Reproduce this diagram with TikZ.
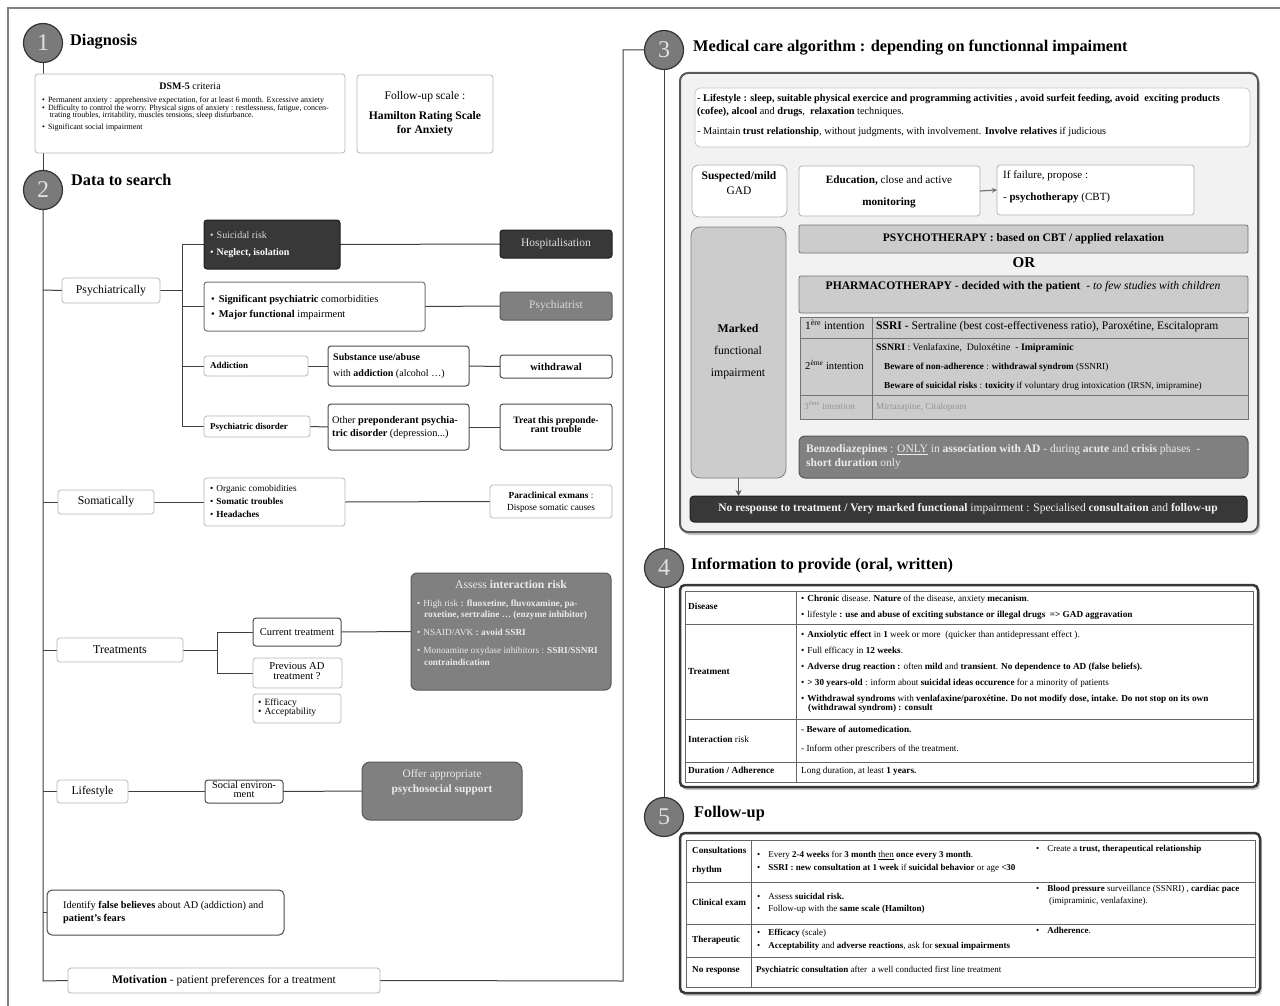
\documentclass[tikz,border=0pt]{standalone}
\usepackage{fontspec}
\setmainfont{Liberation Serif}
\usetikzlibrary{shadows,arrows.meta,calc}
\pgfdeclarelayer{bg}
\pgfsetlayers{bg,main}
\newcommand\fsz[1]{\fontsize{#1}{#1}\selectfont}
\newcounter{tln}
\newcommand\tx[4][]{\stepcounter{tln}\node[anchor=mid west,inner sep=0pt,font=\fsz{#3},#1] (t\arabic{tln}) at (#2) {#4};}
\newcommand\mkbox[7]{\node[inner sep=0pt,outer sep=0pt,minimum width={(#4)-(#2)},minimum height={(#5)-(#3)},#6] (#1) at ({((#2)+(#4))/2},{((#3)+(#5))/2}) {#7};}
\tikzset{
  lbox/.style={draw=black!28,line width=0.8pt,rounded corners=3pt,fill=white},
  dbox/.style={draw=black!70,line width=1pt,rounded corners=3pt,fill=white},
  darkbox/.style={draw=black!88,line width=1pt,rounded corners=3pt,fill=black!78,text=white},
  midbox/.style={draw=black!65,line width=1pt,rounded corners=3pt,fill=black!50,text=white!92!black},
  num/.style={circle,draw=black!80,line width=1.2pt,fill=black!52,minimum size=39pt,inner sep=0pt,text=white!88!black,font=\fsz{24}},
  head/.style={anchor=mid west,inner sep=0pt,font=\fsz{16.3}\bfseries},
  conn/.style={draw=black!75,line width=1pt},
  bigpanel/.style={draw=black!65,line width=2pt,rounded corners=8pt,fill=black!5,drop shadow={fill=black!45,shadow xshift=2pt,shadow yshift=-3pt}},
  tabpanel/.style={draw=black!78,line width=2.5pt,rounded corners=5pt,fill=white,drop shadow={fill=black!40,shadow xshift=2pt,shadow yshift=-3pt}},
  gfill/.style={draw=black!55,line width=0.8pt,rounded corners=2pt,fill=black!20},
  wtxt/.style={text=white!92!black},
}
\begin{document}
\begin{tikzpicture}[x=1pt,y=-1pt]
\useasboundingbox (0,0) rectangle (1280,1006);
\begin{pgfonlayer}{bg}
\fill[white] (0,0) rectangle (1280,1006);
\end{pgfonlayer}
\coordinate (fa) at (8,1006);
\coordinate (fb) at (8,8);
\coordinate (fc) at (1280,8);
\draw[black!50,line width=1.5pt] (fa) -- (fb) -- (fc);

% ===== Section 1
\node[num] (c1) at (43,43) {1};
\node[head] (h1) at (70,43) {Diagnosis};
\mkbox{dsm}{35}{74}{345}{153}{lbox}{}
\tx[anchor=mid]{190,87}{10}{\textbf{DSM-5} criteria}
\tx{42,100}{8}{\textbullet\hspace{3pt}Permanent anxiety : apprehensive expectation, for at least 6 month. Excessive anxiety}
\tx{42,108}{8}{\textbullet\hspace{3pt}Difficulty to control the worry. Physical signs of anxiety : restlessness, fatigue, concen-}
\tx{49.5,115}{8}{trating troubles, irritability, muscles tensions, sleep disturbance.}
\tx{42,127.5}{8}{\textbullet\hspace{3pt}Significant social impairment}
\mkbox{fol}{357}{75}{493}{153}{lbox}{}
\tx[anchor=mid]{425,97}{11.6}{Follow-up scale :}
\tx[anchor=mid]{425,117}{11.6}{\textbf{Hamilton Rating Scale}}
\tx[anchor=mid]{425,131}{11.6}{\textbf{for Anxiety}}

% ===== Section 2
\node[num] (c2) at (43,190) {2};
\node[head] (h2) at (71,183) {Data to search};

\mkbox{psy}{62}{278}{160}{303}{lbox,font=\fsz{11.8}}{Psychiatrically}
\mkbox{sui}{204}{220}{340}{269}{darkbox}{}
\tx[text=white!85!black]{210,236}{10}{\textbullet\hspace{3pt}Suicidal risk}
\tx[text=white]{210,253}{10}{\textbullet\hspace{3pt}\textbf{Neglect, isolation}}
\mkbox{hosp}{500}{230}{612}{258}{darkbox,font=\fsz{11.5},text=white!88!black}{Hospitalisation}
\mkbox{sig}{204}{282}{425}{331}{dbox,draw=black!55}{}
\tx{211,300}{10.4}{\textbullet\hspace{4pt}\textbf{Significant psychiatric} comorbidities}
\tx{211,315}{10.4}{\textbullet\hspace{4pt}\textbf{Major functional} impairment}
\mkbox{psyt}{500}{292}{612}{320}{midbox,font=\fsz{11.5},text=white!85!black}{Psychiatrist}
\mkbox{add}{204}{356}{308}{376}{lbox}{}
\tx{210,366}{9}{\textbf{Addiction}}
\mkbox{subs}{328}{346}{469}{386}{dbox}{}
\tx{333,358}{10}{\textbf{Substance use/abuse}}
\tx{333,374}{10}{with \textbf{addiction} (alcohol \dots)}
\mkbox{wd}{500}{355}{612}{378}{dbox,font=\fsz{10.5}\bfseries}{withdrawal}
\mkbox{pdis}{204}{416}{310}{437}{lbox}{}
\tx{210,427}{9}{\textbf{Psychiatric disorder}}
\mkbox{oth}{328}{404}{469}{450}{dbox}{}
\tx{332,421}{10.3}{Other \textbf{preponderant psychia-}}
\tx{332,434}{10.3}{\textbf{tric disorder} (depression...)}
\mkbox{trb}{500}{404}{612}{450}{dbox}{}
\tx[anchor=mid]{556,421}{9.8}{\textbf{Treat this preponde-}}
\tx[anchor=mid]{556,430.5}{9.8}{\textbf{rant trouble}}

\mkbox{soma}{58}{490}{154}{514}{lbox,font=\fsz{11.8}}{Somatically}
\mkbox{org}{204}{478}{345}{526}{lbox}{}
\tx{210,489}{9.3}{\textbullet\hspace{3pt}Organic comobidities}
\tx{210,502}{9.3}{\textbullet\hspace{3pt}\textbf{Somatic troubles}}
\tx{210,515}{9.3}{\textbullet\hspace{3pt}\textbf{Headaches}}
\mkbox{para}{490}{485}{612}{518}{lbox}{}
\tx[anchor=mid]{551,496}{9.3}{\textbf{Paraclinical exmans} :}
\tx[anchor=mid]{551,508}{9.3}{Dispose somatic causes}

\mkbox{trt}{57}{638}{183}{662}{lbox,font=\fsz{12}}{Treatments}
\mkbox{cur}{253}{618}{341}{646}{dbox,font=\fsz{10.5}}{Current treatment}
\mkbox{prev}{253}{658}{342}{688}{lbox}{}
\tx[anchor=mid]{297,667.5}{10.6}{Previous AD}
\tx[anchor=mid]{297,677}{10.6}{treatment ?}
\mkbox{eff}{253}{694}{341}{723}{lbox}{}
\tx{258,703}{9.6}{\textbullet\hspace{3pt}Efficacy}
\tx{258,712}{9.6}{\textbullet\hspace{3pt}Acceptability}
\mkbox{ass}{411}{573}{611}{690}{midbox,rounded corners=6pt}{}
\tx[anchor=mid,wtxt]{511,586}{11.7}{Assess \textbf{interaction risk}}
\tx[wtxt]{417,604}{9.3}{\textbullet\hspace{3pt}High risk \textbf{: fluoxetine, fluvoxamine, pa-}}
\tx[wtxt]{424,615}{9.3}{\textbf{roxetine, sertraline \dots\ (enzyme inhibitor)}}
\tx[wtxt]{417,633}{9.3}{\textbullet\hspace{3pt}NSAID/AVK \textbf{: avoid SSRI}}
\tx[wtxt]{417,651}{9.3}{\textbullet\hspace{3pt}Monoamine oxydase inhibitors : \textbf{SSRI/SSNRI}}
\tx[wtxt]{424,663}{9.3}{\textbf{contraindication}}

\mkbox{life}{57}{780}{128}{803}{lbox,font=\fsz{11.8}}{Lifestyle}
\mkbox{soc}{205}{780}{283}{803}{dbox}{}
\tx[anchor=mid]{244,786.5}{10.4}{Social environ-}
\tx[anchor=mid]{244,795}{10.4}{ment}
\mkbox{offer}{362}{762}{522}{820}{midbox,rounded corners=8pt}{}
\tx[anchor=mid,wtxt]{442,775}{11.3}{Offer appropriate}
\tx[anchor=mid,wtxt]{442,790}{11.3}{\textbf{psychosocial support}}

\mkbox{ident}{47}{890}{284}{935}{dbox,rounded corners=5pt}{}
\tx{63,906}{10.3}{Identify \textbf{false believes} about AD (addiction) and}
\tx{63,919}{10.3}{\textbf{patient's fears}}
\mkbox{motiv}{68}{968}{380}{993}{lbox,font=\fsz{11.6}}{\textbf{Motivation} - patient preferences for a treatment}

% ===== Section 3
\node[num] (c3) at (664,50) {3};
\node[head] (h3) at (693,49) {Medical care algorithm : depending on functionnal impaiment};
\mkbox{p3}{680}{73}{1258}{532}{bigpanel}{}
\mkbox{lsb}{695}{88}{1250}{147}{lbox,draw=black!22,rounded corners=5pt}{}
\tx{697,99}{10.3}{- \textbf{Lifestyle : sleep, suitable physical exercice and programming activities , avoid surfeit feeding, avoid\ \ exciting products}}
\tx{697,112}{10.3}{\textbf{(cofee), alcool} and \textbf{drugs}, \ \textbf{relaxation} techniques.}
\tx{697,132}{10.3}{- Maintain \textbf{trust relationship}, without judgments, with involvement. \textbf{Involve relatives} if judicious}
\mkbox{susp}{692}{165}{787}{217}{lbox,draw=black!30,rounded corners=7pt}{}
\tx[anchor=mid]{739,177}{11.5}{\textbf{Suspected/mild}}
\tx[anchor=mid]{739,192}{11.5}{GAD}
\mkbox{edu}{799}{166}{980}{216}{lbox,draw=black!30}{}
\tx[anchor=mid]{889,181}{11.2}{\textbf{Education,} close and active}
\tx[anchor=mid]{889,203}{11.2}{\textbf{monitoring}}
\mkbox{fail}{997}{165}{1194}{215}{lbox,draw=black!30}{}
\tx{1003,176}{11}{If failure, propose :}
\tx{1003,198}{11}{- \textbf{psychotherapy} (CBT)}
\mkbox{mark}{691}{227}{786}{478}{gfill,draw=black!50,rounded corners=9pt}{}
\tx[anchor=mid]{738,330}{11.8}{\textbf{Marked}}
\tx[anchor=mid]{738,352}{11.8}{functional}
\tx[anchor=mid]{738,374}{11.8}{impairment}
\mkbox{pst}{799}{225}{1248}{253}{gfill,font=\fsz{11.5}\bfseries}{PSYCHOTHERAPY : based on CBT / applied relaxation}
\tx[anchor=mid]{1024,265}{15}{\textbf{OR}}
\mkbox{pha}{799}{276}{1248}{313}{gfill}{}
\tx[anchor=mid]{1023,287}{11.6}{\textbf{PHARMACOTHERAPY - decided with the patient}\ \ - \textit{to few studies with children}}
\mkbox{tab}{800}{317}{1248}{419}{draw=black!55,line width=0.8pt,fill=black!20}{}
\coordinate (ta1) at (800,338); \coordinate (ta2) at (1248,338);
\coordinate (tb1) at (800,395); \coordinate (tb2) at (1248,395);
\coordinate (tv1) at (872,317); \coordinate (tv2) at (872,419);
\draw[black!55,line width=0.8pt] (ta1) -- (ta2) (tb1) -- (tb2) (tv1) -- (tv2);
\tx{805,327.5}{11.4}{1\textsuperscript{ère} intention}
\tx{876,327.5}{11.6}{\textbf{SSRI -} Sertraline (best cost-effectiveness ratio), Paroxétine, Escitalopram}
\tx{805,367}{10.6}{2\textsuperscript{ème} intention}
\tx{876,348}{9.8}{\textbf{SSNRI} : Venlafaxine,\ \ Duloxétine\ \ - \textbf{Imipraminic}}
\tx{884,367.5}{9.2}{\textbf{Beware of non-adherence} : \textbf{withdrawal syndrom} (SSNRI)}
\tx{884,386}{9.2}{\textbf{Beware of suicidal risks} : \textbf{toxicity} if voluntary drug intoxication (IRSN, imipramine)}
\tx[text=black!42]{804,407}{9.2}{3\textsuperscript{ème} intention}
\tx[text=black!42]{876,407}{9.2}{Mirtazapine, Citalopram}
\mkbox{benz}{799}{436}{1248}{478}{midbox,rounded corners=6pt}{}
\tx[wtxt]{806,450}{11.5}{\textbf{Benzodiazepines} : \underline{ONLY} in \textbf{association with AD} - during \textbf{acute} and \textbf{crisis} phases\ \ -}
\tx[wtxt]{806,464}{11.5}{\textbf{short duration} only}
\mkbox{nor}{690}{496}{1247}{522}{darkbox,rounded corners=4pt}{}
\tx[anchor=mid,text=white!95!black]{968,509}{11.5}{\textbf{No response to treatment / Very marked functional} impairment : Specialised \textbf{consultaiton} and \textbf{follow-up}}

% ===== Section 4
\node[num] (c4) at (664,568) {4};
\node[head] (h4) at (691,567) {Information to provide (oral, written)};
\mkbox{p4}{680}{585}{1258}{787}{tabpanel}{}
\mkbox{t4}{685}{591}{1253}{782}{draw=black!60,line width=0.6pt}{}
\coordinate (f1) at (685,624); \coordinate (f2) at (1253,624);
\coordinate (f3) at (685,719); \coordinate (f4) at (1253,719);
\coordinate (f5) at (685,762); \coordinate (f6) at (1253,762);
\coordinate (f7) at (796,591); \coordinate (f8) at (796,782);
\draw[black!60,line width=0.6pt] (f1) -- (f2) (f3) -- (f4) (f5) -- (f6) (f7) -- (f8);
\tx{688,607}{9.3}{\textbf{Disease}}
\tx{688,672}{9.3}{\textbf{Treatment}}
\tx{688,740}{9.3}{\textbf{Interaction} risk}
\tx{688,771}{9.3}{\textbf{Duration / Adherence}}
\tx{801,599}{9.2}{\textbullet\hspace{3pt}\textbf{Chronic} disease. \textbf{Nature} of the disease, anxiety \textbf{mecanism}.}
\tx{801,615}{9.2}{\textbullet\hspace{3pt}lifestyle \textbf{: use and abuse of exciting substance or illegal drugs\ \ => GAD aggravation}}
\tx{801,635}{9.2}{\textbullet\hspace{3pt}\textbf{Anxiolytic effect} in \textbf{1} week or more\ \ (quicker than antidepressant effect ).}
\tx{801,651}{9.2}{\textbullet\hspace{3pt}Full efficacy in \textbf{12 weeks}.}
\tx{801,667}{9.2}{\textbullet\hspace{3pt}\textbf{Adverse drug reaction :} often \textbf{mild} and \textbf{transient}. \textbf{No dependence to AD (false beliefs).}}
\tx{801,683}{9.2}{\textbullet\hspace{3pt}\textbf{> 30 years-old} : inform about \textbf{suicidal ideas occurence} for a minority of patients}
\tx{801,699}{9.2}{\textbullet\hspace{3pt}\textbf{Withdrawal syndroms} with \textbf{venlafaxine/paroxétine. Do not modify dose, intake. Do not stop on its own}}
\tx{808,708}{9.2}{\textbf{(withdrawal syndrom) : consult}}
\tx{801,730}{9.2}{\textbf{- Beware of automedication.}}
\tx{801,749}{9.2}{- Inform other prescribers of the treatment.}
\tx{801,771}{9.2}{Long duration, at least \textbf{1 years.}}

% ===== Section 5
\node[num] (c5) at (664,817) {5};
\node[head] (h5) at (694,815) {Follow-up};
\mkbox{p5}{680}{833}{1260}{993}{tabpanel}{}
\mkbox{t5}{686}{840}{1255}{987}{draw=black!60,line width=0.6pt}{}
\coordinate (g1) at (686,882); \coordinate (g2) at (1255,882);
\coordinate (g3) at (686,924); \coordinate (g4) at (1255,924);
\coordinate (g5) at (686,957); \coordinate (g6) at (1255,957);
\coordinate (g7) at (751,840); \coordinate (g8) at (751,987);
\draw[black!60,line width=0.6pt] (g1) -- (g2) (g3) -- (g4) (g5) -- (g6) (g7) -- (g8);
\tx{692,851}{9.2}{\textbf{Consultations}}
\tx{692,870}{9.2}{\textbf{rhythm}}
\tx{692,903}{9.2}{\textbf{Clinical exam}}
\tx{692,940}{9.2}{\textbf{Therapeutic}}
\tx{692,970}{9.2}{\textbf{No response}}
\tx{757,855}{9}{\textbullet\hspace{8pt}Every \textbf{2-4 weeks} for \textbf{3 month} \underline{then} \textbf{once every 3 month}.}
\tx{757,868}{9}{\textbullet\hspace{8pt}\textbf{SSRI : new consultation at 1 week} if \textbf{suicidal behavior} or age \textbf{<30}}
\tx{1036,849}{9}{\textbullet\hspace{8pt}Create a \textbf{trust, therapeutical relationship}}
\tx{757,897}{9}{\textbullet\hspace{8pt}Assess \textbf{suicidal risk.}}
\tx{757,909}{9}{\textbullet\hspace{8pt}Follow-up with the \textbf{same scale (Hamilton)}}
\tx{1036,889}{9}{\textbullet\hspace{8pt}\textbf{Blood pressure} surveillance (SSNRI) , \textbf{cardiac pace}}
\tx{1049,901}{9}{(imipraminic, venlafaxine).}
\tx{757,933}{9}{\textbullet\hspace{8pt}\textbf{Efficacy} (scale)}
\tx{757,946}{9}{\textbullet\hspace{8pt}\textbf{Acceptability} and \textbf{adverse reactions}, ask for \textbf{sexual impairments}}
\tx{1036,931}{9}{\textbullet\hspace{8pt}\textbf{Adherence}.}
\tx{756,970}{9}{\textbf{Psychiatric consultation} after\ \ a well conducted first line treatment}

% ===== Connectors
\coordinate (sp1) at (43,290);
\coordinate (sp2) at (43,502);
\coordinate (sp3) at (43,650);
\coordinate (sp4) at (43,791.5);
\coordinate (sp5) at (43,912.5);
\coordinate (sp6) at (43,981);
\coordinate (rc) at (623,981);
\coordinate (bp) at (182,290.5);
\coordinate (bt) at (217,650);
\begin{pgfonlayer}{bg}
\draw[conn] (c1.south) -- (c2.north);
\draw[conn] (c2.south) -- (sp6) -- (motiv.west);
\draw[conn] (motiv.east) -- (rc) |- (c3.west);
\draw[conn] (c3.south) -- (c4.north);
\draw[conn] (c4.south) -- (c5.north);
\draw[conn] (sp1) -- (psy.west);
\draw[conn] (psy.east) -- (bp);
\draw[conn] (bp) |- (sui.west);
\draw[conn] (bp) |- (sig.west);
\draw[conn] (bp) |- (add.west);
\draw[conn] (bp) |- (pdis.west);
\draw[conn] (sui.east) -- (hosp.west);
\draw[conn] (sig.east) -- (psyt.west);
\draw[conn] (add.east) -- (subs.west);
\draw[conn] (subs.east) -- (wd.west);
\draw[conn] (pdis.east) -- (oth.west);
\draw[conn] (oth.east) -- (trb.west);
\draw[conn] (sp2) -- (soma.west);
\draw[conn] (soma.east) -- (org.west);
\draw[conn] (org.east) -- (para.west);
\draw[conn] (sp3) -- (trt.west);
\draw[conn] (trt.east) -- (bt);
\draw[conn] (bt) |- (cur.west);
\draw[conn] (bt) |- (prev.west);
\draw[conn] (cur.east) -- (ass.west);
\draw[conn] (sp4) -- (life.west);
\draw[conn] (life.east) -- (soc.west);
\draw[conn] (soc.east) -- (offer.west);
\draw[conn] (sp5) -- (ident.west);
\end{pgfonlayer}
\draw[black!55,line width=1.2pt,-{Stealth[length=5pt,width=5pt]}] (edu.east) -- (fail.west);
\draw[black!65,line width=1.2pt,-{Stealth[length=6pt,width=6pt]}] (mark.south) -- (mark.south |- nor.north);
\end{tikzpicture}
\end{document}
